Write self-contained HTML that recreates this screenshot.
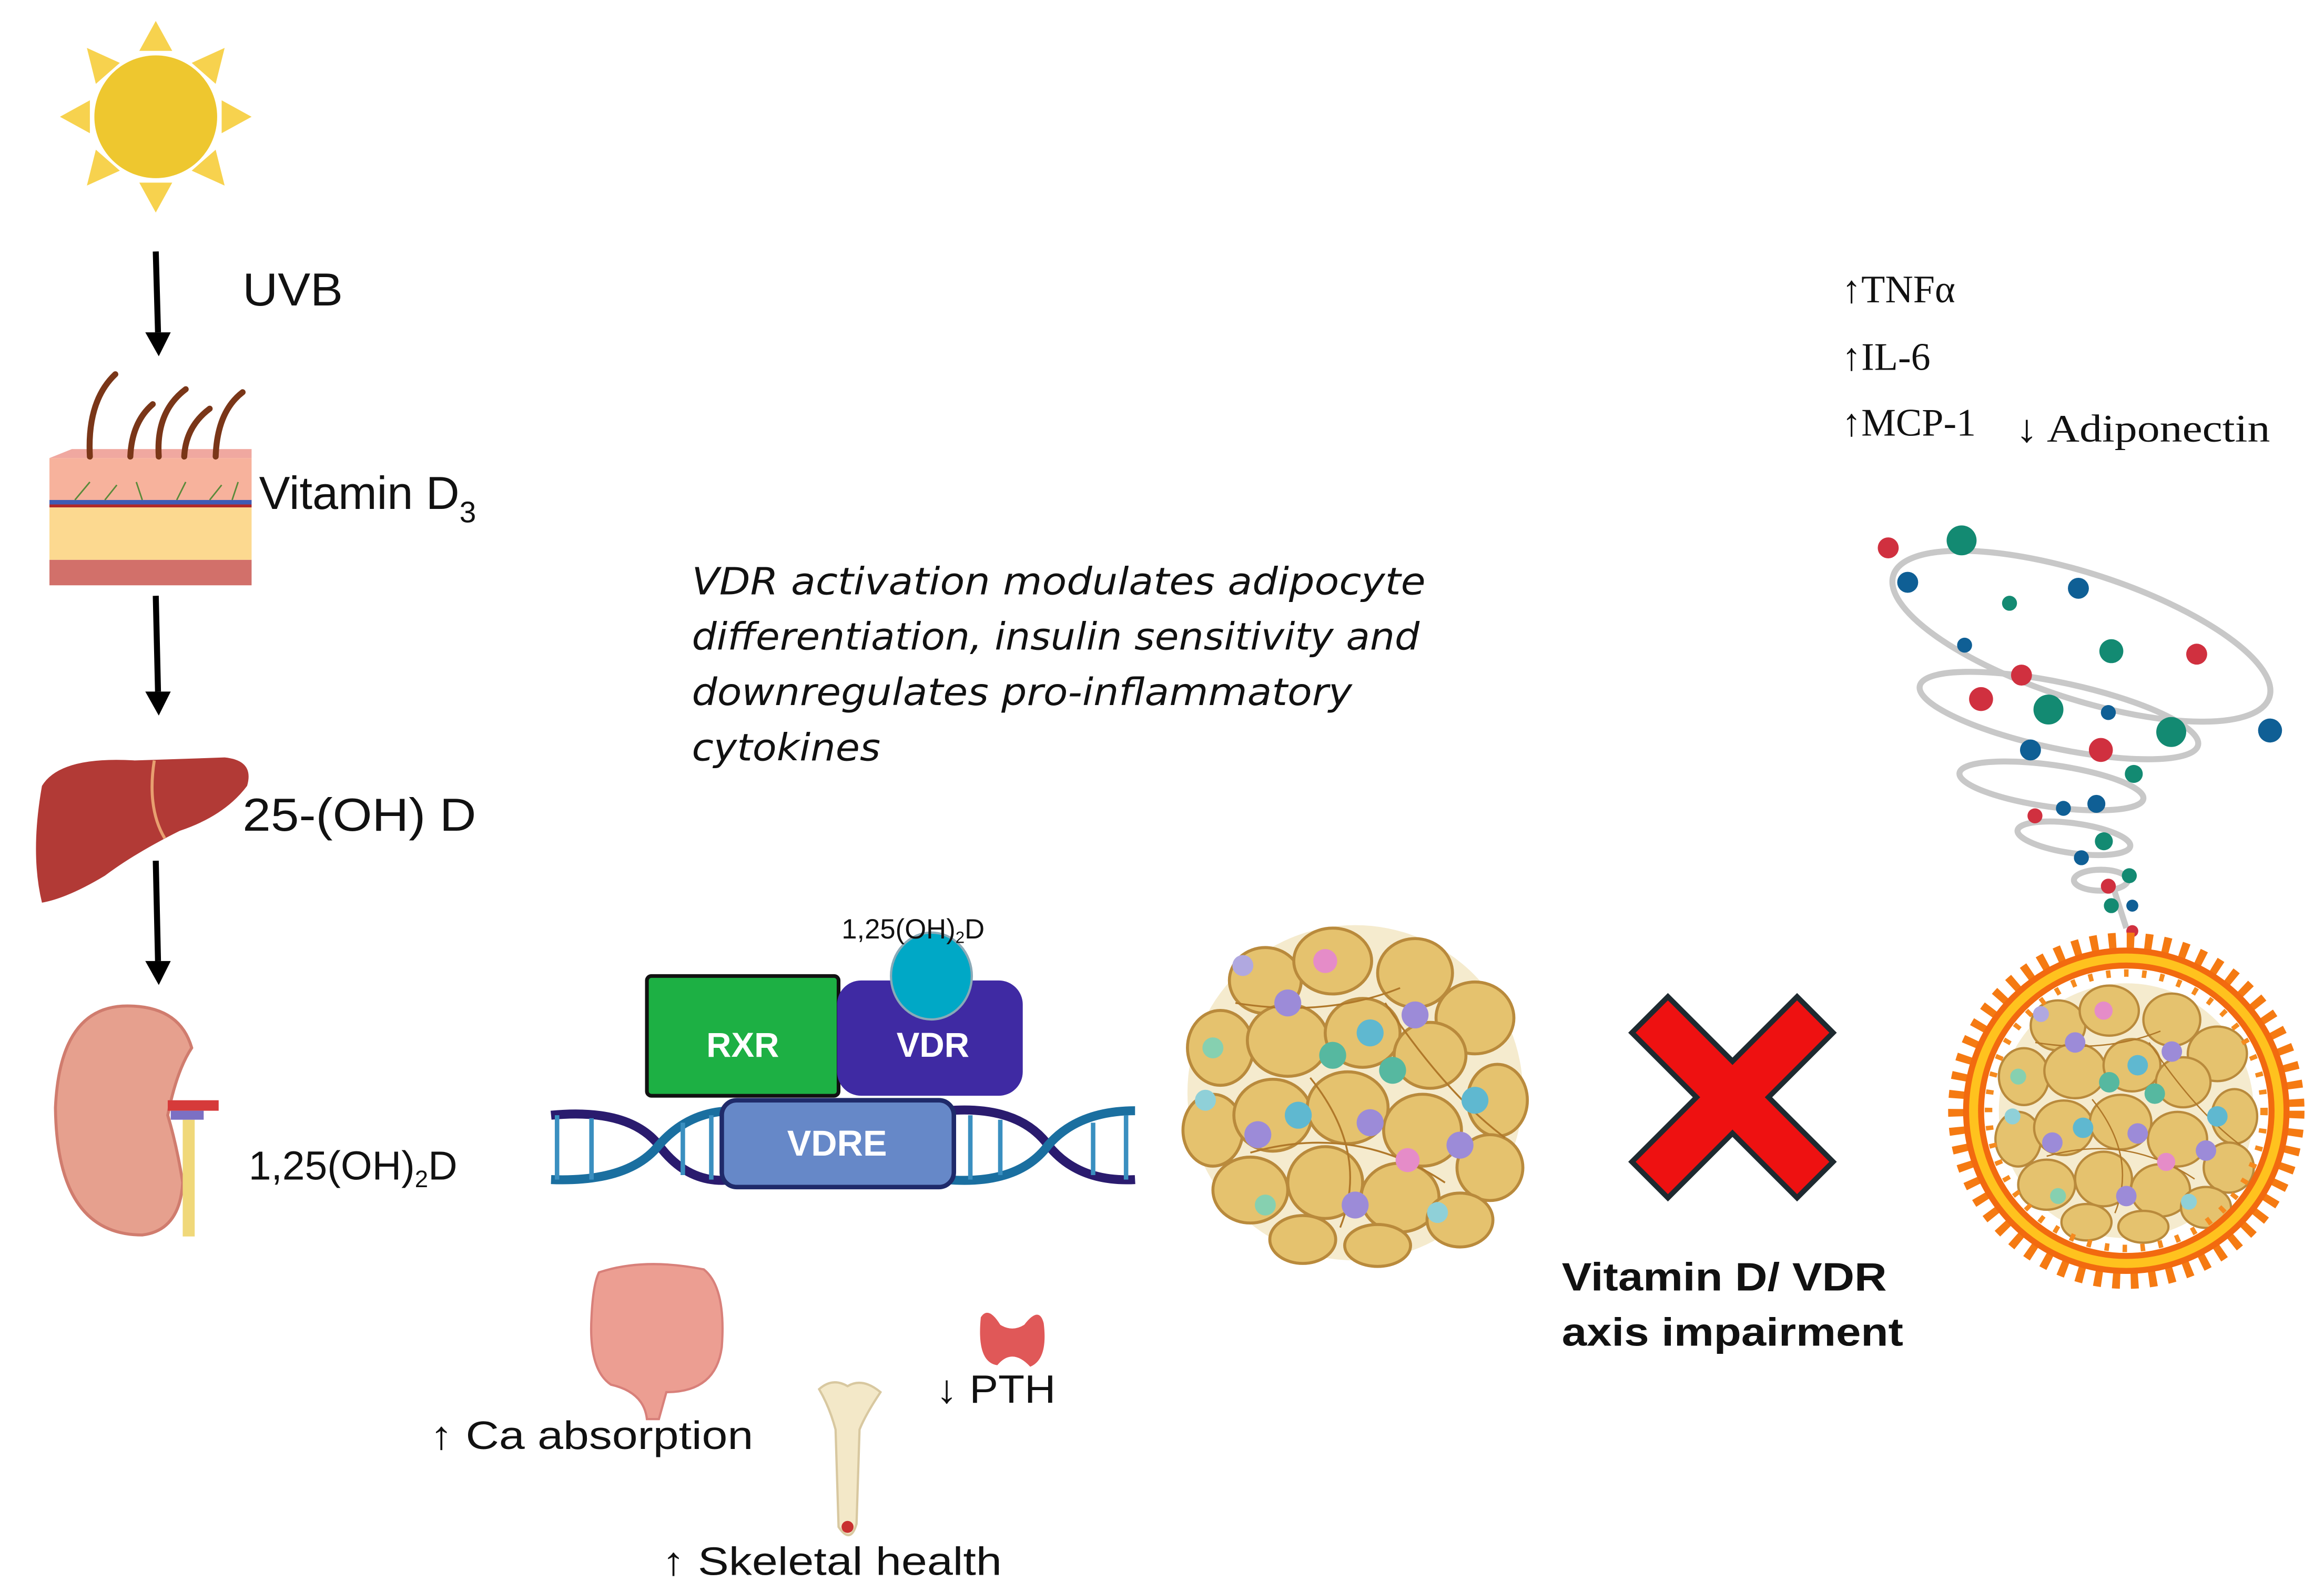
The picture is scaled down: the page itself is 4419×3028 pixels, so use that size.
<!DOCTYPE html>
<html><head><meta charset="utf-8"><style>
html,body{margin:0;padding:0;background:#fff;}
svg{display:block;}
.s{font-family:"Liberation Sans","DejaVu Sans",sans-serif;fill:#111;}
.r{font-family:"Liberation Serif",serif;fill:#111;}
</style></head><body>
<svg width="4419" height="3028" viewBox="0 0 1552 1063.5" xmlns="http://www.w3.org/2000/svg">
<defs>
<g id="fat">
  <circle cx="0" cy="0" r="112" fill="#F3E6C2" opacity="0.8"/>
  <g fill="#E5C26E" stroke="#B98A3C" stroke-width="2">
    <ellipse cx="-60" cy="-75" rx="24" ry="22"/><ellipse cx="-15" cy="-88" rx="26" ry="22"/><ellipse cx="40" cy="-80" rx="25" ry="23"/><ellipse cx="80" cy="-50" rx="26" ry="24"/>
    <ellipse cx="-90" cy="-30" rx="22" ry="25"/><ellipse cx="-45" cy="-35" rx="27" ry="24"/><ellipse cx="5" cy="-40" rx="25" ry="23"/><ellipse cx="50" cy="-25" rx="24" ry="22"/><ellipse cx="95" cy="5" rx="20" ry="24"/>
    <ellipse cx="-95" cy="25" rx="20" ry="24"/><ellipse cx="-55" cy="15" rx="26" ry="24"/><ellipse cx="-5" cy="10" rx="27" ry="24"/><ellipse cx="45" cy="25" rx="26" ry="24"/><ellipse cx="90" cy="50" rx="22" ry="22"/>
    <ellipse cx="-70" cy="65" rx="25" ry="22"/><ellipse cx="-20" cy="60" rx="25" ry="24"/><ellipse cx="30" cy="70" rx="26" ry="23"/><ellipse cx="70" cy="85" rx="22" ry="18"/>
    <ellipse cx="-35" cy="98" rx="22" ry="16"/><ellipse cx="15" cy="102" rx="22" ry="14"/>
  </g>
  <g stroke="#B0782A" stroke-width="1.2" fill="none">
    <path d="M-80,-60 Q-20,-50 30,-70 M-70,40 Q0,20 60,60 M-30,-10 Q10,40 -10,90 M20,-60 Q60,0 100,30"/>
  </g>
  <g>
    <circle cx="-45" cy="-60" r="9" fill="#9C8BD8"/><circle cx="40" cy="-52" r="9" fill="#9C8BD8"/><circle cx="-15" cy="-25" r="9" fill="#56B8A0"/>
    <circle cx="10" cy="-40" r="9" fill="#5FB8D0"/><circle cx="25" cy="-15" r="9" fill="#56B8A0"/><circle cx="80" cy="5" r="9" fill="#5FB8D0"/>
    <circle cx="-38" cy="15" r="9" fill="#5FB8D0"/><circle cx="10" cy="20" r="9" fill="#9C8BD8"/><circle cx="-65" cy="28" r="9" fill="#9C8BD8"/>
    <circle cx="35" cy="45" r="8" fill="#E58CC8"/><circle cx="70" cy="35" r="9" fill="#9C8BD8"/><circle cx="0" cy="75" r="9" fill="#9C8BD8"/>
    <circle cx="-20" cy="-88" r="8" fill="#E58CC8"/><circle cx="-95" cy="-30" r="7" fill="#86D0B0"/><circle cx="-100" cy="5" r="7" fill="#8FD0D8"/>
    <circle cx="-60" cy="75" r="7" fill="#86D0B0"/><circle cx="55" cy="80" r="7" fill="#8FD0D8"/><circle cx="-75" cy="-85" r="7" fill="#B0A8E0"/>
  </g>
</g>
</defs>

<!-- Sun -->
<g fill="#F7D24E">
  <polygon points="104,14 93,34 115,34"/><polygon points="104,142 93,122 115,122"/>
  <polygon points="40,78 60,67 60,89"/><polygon points="168,78 148,67 148,89"/>
  <polygon points="58,32 64,56 80,42"/><polygon points="150,32 128,42 144,56"/>
  <polygon points="58,124 80,114 64,100"/><polygon points="150,124 144,100 128,114"/>
</g>
<circle cx="104" cy="78" r="41" fill="#EEC72F"/>

<!-- arrows -->
<g stroke="#000" stroke-width="4" fill="none">
  <line x1="104" y1="168" x2="105.5" y2="222"/>
  <line x1="104" y1="398" x2="105.5" y2="462"/>
  <line x1="104" y1="575" x2="105.5" y2="642"/>
</g>
<g fill="#000">
  <polygon points="97,222 114,222 106,238"/>
  <polygon points="97,462 114,462 106,478"/>
  <polygon points="97,642 114,642 106,658"/>
</g>
<text class="s" x="162" y="204" font-size="31" textLength="67" lengthAdjust="spacingAndGlyphs">UVB</text>

<!-- Skin -->
<g>
  <polygon points="33,306 48,300 168,300 168,306" fill="#F0A8A0"/>
  <rect x="33" y="306" width="135" height="30" fill="#F7B29C"/>
  <rect x="33" y="334" width="135" height="3" fill="#3F5BB5"/>
  <rect x="33" y="337" width="135" height="2" fill="#B02828"/>
  <rect x="33" y="339" width="135" height="35" fill="#FCD990"/>
  <rect x="33" y="374" width="135" height="17" fill="#D2706A"/>
  <g stroke="#7A3618" stroke-width="4" fill="none" stroke-linecap="round">
    <path d="M60,305 Q58,268 77,250"/><path d="M87,305 Q88,282 102,270"/><path d="M106,305 Q104,275 124,260"/><path d="M123,305 Q124,285 140,273"/><path d="M144,305 Q145,275 162,262"/>
  </g>
  <g stroke="#5A8A3A" stroke-width="1" fill="none"><path d="M50,334 l10,-12 M70,334 l8,-10 M95,334 l-4,-12 M118,334 l6,-12 M140,334 l8,-10 M155,334 l4,-12"/></g>
</g>
<text class="s" x="173" y="340" font-size="31">Vitamin D<tspan font-size="20" dy="9">3</tspan></text>

<!-- Liver -->
<path d="M28,525 Q40,505 90,508 L150,506 Q170,508 165,525 Q150,545 120,555 Q90,570 70,585 Q45,600 28,603 Q20,570 28,525 Z" fill="#B23A36"/>
<path d="M103,508 Q98,540 110,560" stroke="#E8A070" stroke-width="2" fill="none"/>
<text class="s" x="162" y="555" font-size="31" textLength="156" lengthAdjust="spacingAndGlyphs">25-(OH) D</text>

<!-- Kidney -->
<path d="M85,672 Q40,672 37,740 Q38,825 95,825 Q120,822 122,790 Q118,765 112,745 Q118,715 128,700 Q120,672 85,672 Z" fill="#E6A08E" stroke="#D07C6E" stroke-width="2"/>
<rect x="122" y="748" width="8" height="78" fill="#F0D87A"/>
<rect x="112" y="735" width="34" height="7" fill="#D63A3A"/>
<rect x="114" y="742" width="22" height="6" fill="#7B70C4"/>
<text class="s" x="166" y="788" font-size="27">1,25(OH)<tspan font-size="16" dy="5">2</tspan><tspan dy="-5">D</tspan></text>

<!-- italic text -->
<g font-family="'DejaVu Sans','Liberation Sans',sans-serif" font-size="25" font-style="italic" fill="#111">
  <text x="462" y="397" textLength="490" lengthAdjust="spacingAndGlyphs">VDR activation modulates  adipocyte</text>
  <text x="462" y="434" textLength="486" lengthAdjust="spacingAndGlyphs">differentiation, insulin sensitivity and</text>
  <text x="462" y="471" textLength="441" lengthAdjust="spacingAndGlyphs">downregulates pro-inflammatory</text>
  <text x="462" y="508" textLength="126" lengthAdjust="spacingAndGlyphs">cytokines</text>
</g>

<!-- DNA -->
<g fill="none" stroke-width="6">
  <path d="M368,745 Q420,740 440,765 Q460,792 490,788" stroke="#2A1B6E"/>
  <path d="M368,788 Q420,790 440,765 Q460,742 490,742" stroke="#1A6FA0"/>
  <path d="M632,742 Q680,738 700,765 Q720,790 758,788" stroke="#2A1B6E"/>
  <path d="M632,788 Q680,792 700,765 Q720,742 758,742" stroke="#1A6FA0"/>
</g>
<g stroke="#3A8FC0" stroke-width="3">
  <line x1="372" y1="745" x2="372" y2="788"/><line x1="395" y1="747" x2="395" y2="788"/><line x1="456" y1="750" x2="456" y2="785"/><line x1="475" y1="745" x2="475" y2="788"/>
  <line x1="648" y1="745" x2="648" y2="788"/><line x1="668" y1="748" x2="668" y2="785"/><line x1="730" y1="750" x2="730" y2="785"/><line x1="752" y1="745" x2="752" y2="788"/>
</g>
<rect x="482" y="735" width="155" height="58" rx="10" fill="#6688C8" stroke="#1F2A6A" stroke-width="3"/>
<text x="559" y="772" font-family="Liberation Sans,sans-serif" font-weight="bold" font-size="24" fill="#fff" text-anchor="middle">VDRE</text>
<rect x="432" y="652" width="128" height="80" rx="3" fill="#1DB044" stroke="#111" stroke-width="2.5"/>
<text x="496" y="706" font-family="Liberation Sans,sans-serif" font-weight="bold" font-size="23" fill="#fff" text-anchor="middle">RXR</text>
<rect x="559" y="655" width="124" height="77" rx="16" fill="#3F2AA3"/>
<text x="623" y="706" font-family="Liberation Sans,sans-serif" font-weight="bold" font-size="23" fill="#fff" text-anchor="middle">VDR</text>
<ellipse cx="622" cy="652" rx="27" ry="29" fill="#00A8C6" stroke="#8AAAB8" stroke-width="1.5"/>
<text class="s" x="562" y="627" font-size="18.5">1,25(OH)<tspan font-size="11" dy="3">2</tspan><tspan dy="-3">D</tspan></text>

<!-- adipose 1 -->
<use href="#fat" transform="translate(905,730)"/>

<!-- red X -->
<g transform="translate(1157,733) rotate(45)">
  <path d="M-17,-78 H17 V-17 H78 V17 H17 V78 H-17 V17 H-78 V-17 H-17 Z" fill="#EE1111" stroke="#1E2A30" stroke-width="3.5"/>
</g>
<text x="1043" y="862" font-family="Liberation Sans,sans-serif" font-weight="bold" font-size="26.5" fill="#111" textLength="217" lengthAdjust="spacingAndGlyphs">Vitamin D/ VDR</text>
<text x="1043" y="899" font-family="Liberation Sans,sans-serif" font-weight="bold" font-size="26.5" fill="#111" textLength="228" lengthAdjust="spacingAndGlyphs">axis impairment</text>

<!-- Intestine -->
<path d="M400,850 Q430,840 470,848 Q485,860 482,900 Q478,930 445,930 L440,948 L432,948 Q430,930 408,925 Q393,915 395,880 Q396,858 400,850 Z" fill="#EC9E92" stroke="#D8807A" stroke-width="1.5"/>
<text class="s" x="287" y="968" font-size="26.5" textLength="216" lengthAdjust="spacingAndGlyphs">↑ Ca absorption</text>

<!-- Bone -->
<path d="M547,928 Q556,920 566,926 Q576,920 588,930 Q578,945 574,955 L572,1018 Q568,1032 560,1020 L558,955 Q554,940 547,928 Z" fill="#F3E8C8" stroke="#D8C8A0" stroke-width="1.5"/>
<circle cx="566" cy="1020" r="4" fill="#C83030"/>
<text class="s" x="442" y="1052" font-size="26.5" textLength="227" lengthAdjust="spacingAndGlyphs">↑ Skeletal health</text>

<!-- Thyroid -->
<path d="M655,880 Q660,872 668,885 Q676,890 684,885 Q694,872 697,884 Q700,908 688,913 Q676,900 666,912 Q652,910 655,880 Z" fill="#E05858"/>
<text class="s" x="625" y="937" font-size="26.5" textLength="80" lengthAdjust="spacingAndGlyphs">↓ PTH</text>

<!-- cytokines -->
<g class="r" font-size="26">
  <text x="1230" y="202">↑TNFα</text>
  <text x="1230" y="247">↑IL-6</text>
  <text x="1230" y="291">↑MCP-1</text>
  <text x="1346" y="295" textLength="170" lengthAdjust="spacingAndGlyphs">↓ Adiponectin</text>
</g>

<!-- spiral -->
<g fill="none" stroke="#C8C8C8" stroke-width="4">
  <ellipse cx="1390" cy="425" rx="132" ry="42" transform="rotate(18 1390 425)"/>
  <ellipse cx="1375" cy="478" rx="95" ry="22" transform="rotate(12 1375 478)"/>
  <ellipse cx="1370" cy="525" rx="62" ry="14" transform="rotate(8 1370 525)"/>
  <ellipse cx="1385" cy="560" rx="38" ry="10" transform="rotate(8 1385 560)"/>
  <ellipse cx="1403" cy="588" rx="18" ry="7"/>
  <line x1="1412" y1="595" x2="1420" y2="620"/>
</g>
<g>
  <circle cx="1261" cy="366" r="7" fill="#D0303F"/><circle cx="1310" cy="361" r="10" fill="#138A72"/><circle cx="1274" cy="389" r="7" fill="#0F5F95"/>
  <circle cx="1342" cy="403" r="5" fill="#138A72"/><circle cx="1388" cy="393" r="7" fill="#0F5F95"/><circle cx="1312" cy="431" r="5" fill="#0F5F95"/>
  <circle cx="1410" cy="435" r="8" fill="#138A72"/><circle cx="1467" cy="437" r="7" fill="#D0303F"/><circle cx="1350" cy="451" r="7" fill="#D0303F"/>
  <circle cx="1323" cy="467" r="8" fill="#D0303F"/><circle cx="1368" cy="474" r="10" fill="#138A72"/><circle cx="1408" cy="476" r="5" fill="#0F5F95"/>
  <circle cx="1450" cy="489" r="10" fill="#138A72"/><circle cx="1516" cy="488" r="8" fill="#0F5F95"/><circle cx="1356" cy="501" r="7" fill="#0F5F95"/>
  <circle cx="1403" cy="501" r="8" fill="#D0303F"/><circle cx="1425" cy="517" r="6" fill="#138A72"/><circle cx="1359" cy="545" r="5" fill="#D0303F"/>
  <circle cx="1378" cy="540" r="5" fill="#0F5F95"/><circle cx="1400" cy="537" r="6" fill="#0F5F95"/><circle cx="1405" cy="562" r="6" fill="#138A72"/>
  <circle cx="1390" cy="573" r="5" fill="#0F5F95"/><circle cx="1422" cy="585" r="5" fill="#138A72"/><circle cx="1408" cy="592" r="5" fill="#D0303F"/>
  <circle cx="1410" cy="605" r="5" fill="#138A72"/><circle cx="1424" cy="605" r="4" fill="#0F5F95"/><circle cx="1424" cy="622" r="4" fill="#D0303F"/>
</g>

<!-- fire ring & adipose 2 -->
<use href="#fat" transform="translate(1420,742) scale(0.76)"/>
<ellipse cx="1420" cy="742" rx="112" ry="112" fill="none" stroke="#F57A12" stroke-width="14" stroke-dasharray="5 7"/>
<ellipse cx="1420" cy="742" rx="102" ry="102" fill="none" stroke="#F26A0F" stroke-width="14"/>
<ellipse cx="1420" cy="742" rx="102" ry="102" fill="none" stroke="#FFC21E" stroke-width="6"/>
<ellipse cx="1420" cy="742" rx="92" ry="92" fill="none" stroke="#F68A1E" stroke-width="5" stroke-dasharray="3 9"/>
</svg>
</body></html>
